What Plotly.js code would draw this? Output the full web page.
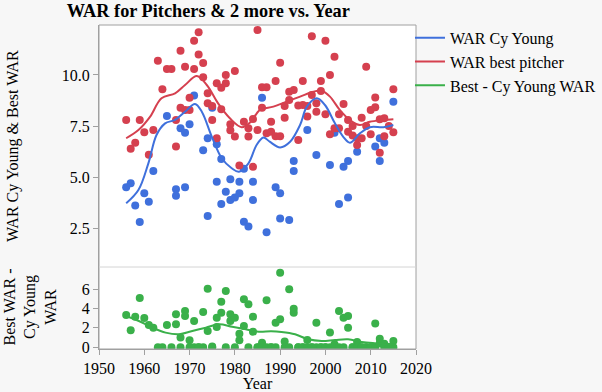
<!DOCTYPE html>
<html>
<head>
<meta charset="utf-8">
<script src="https://cdn.plot.ly/plotly-3.0.1.min.js"></script>
<style>html,body{margin:0;padding:0;background:#f7f7f7;}</style>
</head>
<body>
<div id="chart" style="width:602px;height:392px;"></div>
<script>
// ---- Data ----
// Cy Young winner WAR (visible points)
var cyYears = [1956,1957,1958,1959,1960,1961,1962,1965,1967,1967,1968,1969,1969,1970,1971,1973,1974,1974,1975,1976,1976,1977,1977,1978,1979,1979,1980,1981,1981,1982,1982,1983,1984,1984,1986,1987,1989,1990,1990,1992,1993,1993,1996,1998,2001,2002,2003,2004,2005,2005,2007,2011,2012,2012,2013,2015];
var cyWAR   = [4.5,4.69,3.6,2.8,4.2,3.79,5.29,7.99,4.4,4.08,7.39,7.17,4.5,7.58,9.0,6.31,6.9,3.09,8.4,6.6,4.77,5.88,3.68,4.28,4.89,3.87,3.99,4.77,4.2,5.4,2.81,2.57,4.77,3.87,8.89,2.29,4.5,4.2,2.97,2.89,5.78,5.29,7.3,6.08,5.59,7.17,3.68,5.5,5.78,3.99,6.24,6.49,6.9,5.78,6.68,8.69];

// Best pitcher WAR
var bestYears = [1956,1957,1958,1959,1960,1961,1962,1963,1964,1965,1966,1967,1967,1968,1968,1969,1969,1970,1970,1971,1971,1972,1972,1973,1973,1974,1974,1975,1975,1976,1976,1977,1977,1978,1978,1979,1979,1980,1980,1981,1982,1983,1983,1984,1984,1985,1985,1986,1986,1987,1987,1988,1988,1989,1989,1990,1990,1991,1991,1992,1992,1993,1994,1994,1995,1995,1996,1996,1997,1997,1998,1998,1999,1999,2000,2000,2001,2001,2002,2002,2003,2003,2004,2005,2005,2006,2006,2007,2007,2008,2008,2009,2009,2010,2010,2011,2011,2012,2012,2013,2013,2014,2015,2015];
var bestWAR   = [7.79,6.39,6.68,7.79,7.19,6.09,7.3,10.7,9.3,10.29,10.29,7.79,6.49,11.19,8.4,10.4,8.28,8.28,8.89,11.68,10.29,12.09,11.0,10.59,9.89,9.1,8.61,8.48,7.79,9.59,6.9,9.38,8.32,10.0,9.59,7.58,7.29,10.2,6.98,5.56,7.71,7.39,6.98,7.84,5.5,12.2,7.3,9.4,8.4,9.4,7.14,7.71,7.22,9.71,7.0,10.6,7.0,7.9,8.48,9.18,8.77,9.26,8.5,6.81,9.71,8.53,8.48,7.96,11.9,9.02,8.61,8.2,9.71,9.22,11.68,8.07,10.0,7.1,10.9,7.39,7.39,8.07,8.58,7.79,7.22,7.5,7.03,6.9,6.57,7.9,6.9,10.4,7.5,8.28,7.1,8.42,8.9,7.83,6.19,7.88,7.0,7.5,9.3,7.19];

// Best WAR - Cy Young WAR
var diffYears = [1956,1957,1958,1959,1960,1961,1962,1963,1964,1965,1966,1967,1967,1968,1968,1969,1969,1970,1970,1971,1971,1972,1972,1973,1973,1974,1974,1975,1975,1976,1976,1977,1977,1978,1978,1979,1979,1980,1980,1981,1981,1982,1982,1983,1983,1984,1984,1985,1985,1986,1986,1987,1987,1988,1988,1989,1989,1990,1990,1991,1991,1992,1992,1993,1993,1994,1994,1995,1995,1996,1996,1997,1997,1998,1998,1999,1999,2000,2000,2001,2001,2002,2002,2003,2003,2004,2004,2005,2005,2006,2006,2007,2007,2008,2008,2009,2009,2010,2010,2011,2011,2012,2012,2013,2013,2014,2014,2015,2015];
var diffWAR   = [3.33,1.75,3.16,5.08,3.02,2.3,2.02,0,0,2.3,0,3.4,2.37,1.0,0,3.74,3.23,0.72,0,2.71,0,0,0,3.64,0,6.04,1.68,0,0.08,3.05,2.09,4.7,3.57,5.8,0,3.4,2.71,3.05,0,1.4,0.72,4.95,2.2,4.43,0,3.16,1.61,0,0,0.47,0,4.84,0,0,0,2.54,0,7.69,2.89,0,0.6,5.98,0,3.98,3.57,0,0,0,0,0.75,0,0,0,2.54,0,0,0,0,0,1.51,0,0.3,0,3.74,0,3.05,0,3.23,2.02,0,0,0.55,0,0,0,0,0,0,0,2.44,0,0.89,0.41,0.37,0,0,0,0.65,0];

// Smoother curves
var cyFitYears = [1956,1958.7,1960.9,1962.7,1964.6,1966.8,1969,1971.2,1972.7,1974.9,1977.1,1979.3,1980.9,1983,1984.8,1986.3,1987.7,1990,1992.2,1994.4,1995.9,1998.1,1999.9,2002.1,2003.9,2005.4,2007.6,2009.8,2012.8,2015];
var cyFit      = [3.71,4.36,5.67,7.06,7.63,7.8,8.2,8.58,8.2,6.98,5.92,5.43,5.26,5.67,6.57,6.94,6.73,6.45,6.73,7.55,8.45,8.86,8.53,7.63,6.98,6.68,7.14,7.44,7.44,7.55];
var bestFitYears = [1956,1958.7,1961.3,1963.8,1966.8,1969,1971.6,1973.8,1976.3,1978.9,1981.5,1983.5,1985.5,1988.5,1991.4,1994.4,1997.3,1999.2,2001,2003.2,2005.4,2007.6,2009.8,2012.8,2015];
var bestFit      = [6.9,7.3,7.96,8.86,9.1,9.51,9.95,9.51,8.61,7.88,7.44,7.7,8.28,8.45,8.69,8.94,9.18,9.23,8.94,8.28,7.79,7.55,7.71,7.79,7.83];
var diffFitYears = [1956,1958.8,1961.8,1964.7,1967.7,1970.6,1973.6,1976.5,1979.4,1982.4,1985.3,1988,1990.3,1993.3,1996.2,1999.2,2002.1,2005,2008,2010.9,2013.9,2015];
var diffFit      = [3.23,2.71,2.02,1.51,1.34,1.68,2.02,2.37,2.12,1.86,1.6,1.65,1.58,1.34,0.82,0.65,0.75,0.82,0.55,0.41,0.31,0.28];

var xTicks = [1950,1960,1970,1980,1990,2000,2010,2020];
var yTopTicks = [2.5,5,7.5,10];
var yTopTickText = ['2.5','5.0','7.5','10.0'];
var yBotTicks = [0,2,4,6];

var BLUE = '#3f70dc', RED = '#d5404f', GREEN = '#3ab04a';
var SERIF = 'Liberation Serif, Times New Roman, serif';
var FS = 16;

var traces = [
  {x: cyYears, y: cyWAR, type:'scatter', mode:'markers', xaxis:'x', yaxis:'y',
   marker:{color:BLUE, size:8}, showlegend:false, hoverinfo:'x+y'},
  {x: bestYears, y: bestWAR, type:'scatter', mode:'markers', xaxis:'x', yaxis:'y',
   marker:{color:RED, size:8}, showlegend:false, hoverinfo:'x+y'},
  {x: diffYears, y: diffWAR, type:'scatter', mode:'markers', xaxis:'x', yaxis:'y2',
   marker:{color:GREEN, size:8}, showlegend:false, hoverinfo:'x+y'},
  {x: cyFitYears, y: cyFit, type:'scatter', mode:'lines', name:'WAR Cy Young', xaxis:'x', yaxis:'y',
   line:{color:BLUE, width:2, shape:'spline', smoothing:1}},
  {x: bestFitYears, y: bestFit, type:'scatter', mode:'lines', name:'WAR best pitcher', xaxis:'x', yaxis:'y',
   line:{color:RED, width:2, shape:'spline', smoothing:1}},
  {x: diffFitYears, y: diffFit, type:'scatter', mode:'lines', name:'Best - Cy Young WAR', xaxis:'x', yaxis:'y2',
   line:{color:GREEN, width:2, shape:'spline', smoothing:1}}
];

var split = 82/324;
var axisCommon = {showgrid:false, zeroline:false, showline:true, linecolor:'#a0a0a0', linewidth:1,
  ticks:'outside', ticklen:5, tickcolor:'#a0a0a0', automargin:false,
  tickfont:{family:SERIF, size:FS, color:'#000'}};

var layout = {
  width:602, height:392,
  margin:{l:99, r:186, t:25, b:43, pad:0, autoexpand:false},
  paper_bgcolor:'#f7f7f7', plot_bgcolor:'#ffffff',
  font:{family:SERIF, size:FS, color:'#000'},
  title:{text:'<b>WAR for Pitchers & 2 more vs. Year</b>', font:{family:SERIF, size:18.3, color:'#000'},
    xref:'container', x:0.346, xanchor:'center', yref:'container', y:0.972, yanchor:'middle'},
  xaxis: Object.assign({}, axisCommon, {domain:[0,1], anchor:'y2', range:[1950,2020],
    tickvals:xTicks, title:{text:'Year', font:{family:SERIF, size:FS}, standoff:1}}),
  yaxis: Object.assign({}, axisCommon, {domain:[split,1], anchor:'x', range:[0.59,12.45],
    tickvals:yTopTicks, ticktext:yTopTickText}),
  yaxis2: Object.assign({}, axisCommon, {domain:[0,split], anchor:'x', range:[-0.18,8.28],
    tickvals:yBotTicks}),
  showlegend:true,
  legend:{x:0.981, xanchor:'left', y:1.013, yanchor:'top', bgcolor:'rgba(0,0,0,0)',
    font:{family:SERIF, size:FS, color:'#000'}, tracegroupgap:0, itemwidth:30},
  shapes:[
    {type:'rect', xref:'paper', yref:'paper', x0:0, x1:1, y0:0, y1:1, line:{color:'#a0a0a0', width:1}},
    {type:'line', xref:'paper', yref:'paper', x0:0, x1:1, y0:split, y1:split, line:{color:'#d4d4d4', width:1}}
  ],
  annotations:[
    {text:'WAR Cy Young & Best WAR', xref:'paper', yref:'paper', x:(13-99)/317, y:(349-146)/324,
     xanchor:'center', yanchor:'middle', textangle:-90, showarrow:false, font:{family:SERIF, size:FS}},
    {text:'Best WAR -<br>Cy Young<br>WAR', xref:'paper', yref:'paper', x:(29.5-99)/317, y:(349-307)/324,
     xanchor:'center', yanchor:'middle', textangle:-90, showarrow:false, align:'center', font:{family:SERIF, size:FS}}
  ]
};

Plotly.newPlot('chart', traces, layout, {displayModeBar:false, staticPlot:true});
</script>
</body>
</html>
